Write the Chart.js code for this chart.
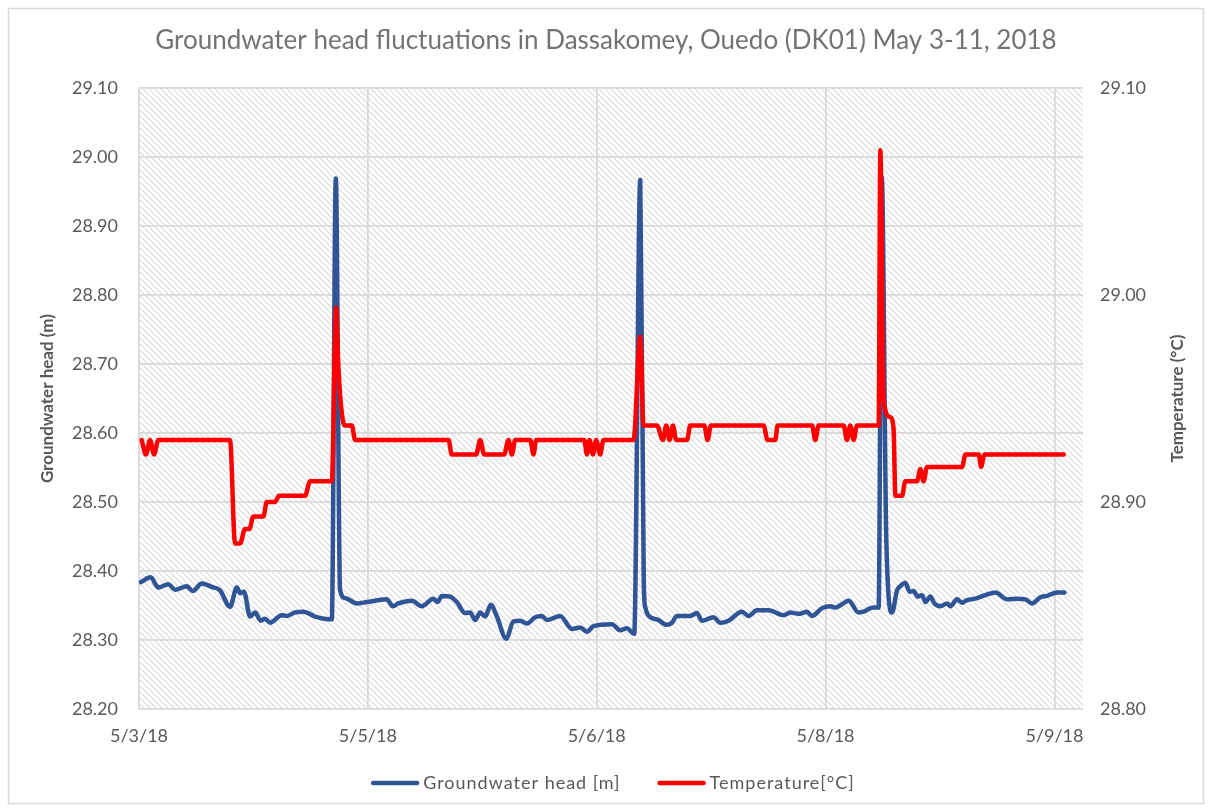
<!DOCTYPE html>
<html>
<head>
<meta charset="utf-8">
<script src="https://cdn.jsdelivr.net/npm/chart.js@4/dist/chart.umd.min.js"></script>
<style>
  html, body { margin: 0; padding: 0; background: #ffffff; }
  #wrap { position: relative; width: 1212px; height: 812px; }
</style>
</head>
<body>
<div id="wrap"><canvas id="chart" width="1212" height="812"></canvas></div>
<script>
// Hours after 5/3/18 12:00 and logger readings
const headHours = [0.31,1.84,3.04,4.61,5.67,7.51,8.45,9.87,11.44,12.75,
  14.32,15.38,15.90,16.52,17.47,18.26,19.15,19.83,20.62,22.46,
  23.25,24.55,25.86,27.70,30.33,30.96,31.63,32.42,34.26,35.84,
  38.98,39.93,40.81,42.92,44.49,46.32,46.95,47.64,48.95,50.00,
  51.31,52.09,52.88,53.67,54.45,55.35,56.30,57.76,58.91,59.96,
  61.02,62.32,63.38,64.16,66.26,68.10,69.41,70.46,71.50,74.39,
  75.70,76.75,77.90,78.85,79.40,79.63,80.94,81.73,82.94,83.84,
  84.62,86.72,87.77,88.56,90.38,91.44,92.74,94.85,95.89,97.21,
  99.04,101.40,102.45,103.76,105.08,105.87,107.44,108.75,109.54,110.59,
  111.63,113.20,113.99,114.78,115.56,116.35,116.85,117.56,118.46,119.25,
  119.77,120.55,121.23,121.86,122.49,123.18,123.70,124.49,125.12,126.06,
  127.12,127.64,128.69,129.48,130.26,131.57,133.14,134.72,136.56,138.13,
  139.44,140.49,141.80,142.85,144.43,145.58];
const headValues = [28.384,28.391,28.376,28.381,28.373,28.378,28.371,28.382,28.377,28.372,
  28.348,28.376,28.368,28.370,28.334,28.340,28.328,28.331,28.325,28.336,
  28.335,28.340,28.341,28.334,28.330,28.969,28.372,28.361,28.353,28.355,
  28.359,28.349,28.353,28.357,28.349,28.360,28.355,28.364,28.363,28.355,
  28.339,28.340,28.329,28.340,28.334,28.351,28.334,28.302,28.327,28.328,
  28.324,28.333,28.335,28.329,28.335,28.316,28.318,28.312,28.320,28.323,
  28.314,28.317,28.309,28.967,28.387,28.348,28.331,28.329,28.322,28.325,
  28.335,28.335,28.339,28.328,28.333,28.325,28.328,28.341,28.335,28.343,
  28.343,28.336,28.340,28.338,28.341,28.335,28.346,28.349,28.347,28.352,
  28.357,28.340,28.341,28.345,28.347,28.347,28.970,28.445,28.340,28.372,
  28.378,28.383,28.370,28.371,28.363,28.365,28.355,28.363,28.353,28.349,
  28.353,28.349,28.359,28.354,28.358,28.360,28.365,28.369,28.359,28.360,
  28.359,28.353,28.362,28.364,28.369,28.369];

const tempHours = [0.42,1.10,1.73,2.36,3.04,14.32,15.11,15.90,16.68,17.36,
  17.99,19.56,20.10,21.40,22.03,26.12,26.91,30.33,31.00,31.37,
  31.90,32.42,33.48,34.00,48.68,49.21,53.04,53.67,54.30,57.44,
  58.12,58.66,59.18,61.54,62.06,62.48,70.04,70.46,70.87,71.40,
  71.92,72.55,73.07,77.79,78.85,79.37,81.48,82.42,82.94,83.46,
  83.99,84.51,86.20,86.72,88.92,89.44,89.97,98.25,98.88,100.09,
  100.46,105.87,106.39,106.91,110.84,111.37,111.89,112.42,112.95,116.35,
  116.62,117.14,118.19,118.71,118.98,120.03,120.55,122.39,122.91,123.43,
  123.97,129.48,130.00,132.09,132.47,132.99,145.47];
const tempValues = [28.930,28.923,28.930,28.923,28.930,28.930,28.880,28.880,28.887,28.887,
  28.893,28.893,28.900,28.900,28.903,28.903,28.910,28.910,28.994,28.965,
  28.943,28.937,28.937,28.930,28.930,28.923,28.923,28.930,28.923,28.923,
  28.930,28.923,28.930,28.930,28.923,28.930,28.930,28.923,28.930,28.923,
  28.930,28.923,28.930,28.930,28.980,28.937,28.937,28.930,28.937,28.930,
  28.937,28.930,28.930,28.937,28.937,28.930,28.937,28.937,28.930,28.930,
  28.937,28.937,28.930,28.937,28.937,28.930,28.937,28.930,28.937,28.937,
  29.070,28.949,28.941,28.935,28.903,28.903,28.910,28.910,28.916,28.910,
  28.917,28.917,28.923,28.923,28.917,28.923,28.923];

// Date axis: one gridline every 36 hours
const xTickHours = [0, 36, 72, 108, 144];
const xTickLabels = ['5/3/18', '5/5/18', '5/6/18', '5/8/18', '5/9/18'];

const titleText = 'Groundwater head fluctuations in Dassakomey, Ouedo (DK01) May 3-11, 2018';
const headLabel = 'Groundwater head [m]';
const tempLabel = 'Temperature[°C]';
const headAxisTitle = 'Groundwater head (m)';
const tempAxisTitle = 'Temperature (°C)';

const BLUE = '#2f5597';
const RED = '#ff0000';
const TEXT = '#595959';
const FONT = 'Lato, "Open Sans", sans-serif';

Chart.defaults.font.family = FONT;
Chart.defaults.color = TEXT;

// Diagonal hatch tile for the plot area
function hatchPattern(ctx) {
  const s = 6;
  const tile = document.createElement('canvas');
  tile.width = s; tile.height = s;
  const t = tile.getContext('2d');
  t.fillStyle = '#ffffff';
  t.fillRect(0, 0, s, s);
  t.strokeStyle = '#d8d8d8';
  t.lineWidth = 1.1;
  for (let k = -1; k <= 1; k++) {
    t.beginPath();
    t.moveTo(k * s, 0);
    t.lineTo(k * s + s, s);
    t.stroke();
  }
  return ctx.createPattern(tile, 'repeat');
}

const decor = {
  id: 'decor',
  beforeDraw(chart) {
    const { ctx, chartArea: a } = chart;
    ctx.save();
    ctx.fillStyle = '#ffffff';
    ctx.fillRect(0, 0, chart.width, chart.height);
    ctx.fillStyle = hatchPattern(ctx);
    ctx.fillRect(a.left, a.top, a.right - a.left, a.bottom - a.top);
    ctx.strokeStyle = '#d9d9d9';
    ctx.lineWidth = 1.5;
    ctx.strokeRect(8.5, 8.5, chart.width - 17, chart.height - 17);
    ctx.restore();
  },
  afterDraw(chart) {
    const { ctx, chartArea: a } = chart;
    const midY = (a.top + a.bottom) / 2;
    ctx.save();
    ctx.fillStyle = TEXT;
    ctx.font = 'bold 17px ' + FONT;
    ctx.textAlign = 'center';
    ctx.textBaseline = 'middle';
    [[48, headAxisTitle], [1178, tempAxisTitle]].forEach(([x, txt]) => {
      ctx.save();
      ctx.translate(x, midY);
      ctx.rotate(-Math.PI / 2);
      ctx.fillText(txt, 0, 0);
      ctx.restore();
    });

    // legend row
    ctx.font = '18px ' + FONT;
    ctx.letterSpacing = '1px';
    ctx.textAlign = 'left';
    const lineLen = 48, gap = 4, itemGap = 37, y = 783;
    const items = chart.data.datasets.slice().sort((p, q) => p.legendIndex - q.legendIndex);
    const widths = items.map(d => lineLen + gap + ctx.measureText(d.label).width);
    const total = widths.reduce((s, w) => s + w, 0) + itemGap * (items.length - 1);
    let x = 613 - total / 2;
    items.forEach((d, i) => {
      ctx.strokeStyle = d.borderColor;
      ctx.lineWidth = 4.5;
      ctx.lineCap = 'round';
      ctx.beginPath();
      ctx.moveTo(x + 2, y);
      ctx.lineTo(x + lineLen - 2, y);
      ctx.stroke();
      ctx.fillText(d.label, x + lineLen + gap, y);
      x += widths[i] + itemGap;
    });
    ctx.restore();
  }
};

const headPoints = headHours.map((h, i) => ({ x: h, y: headValues[i] }));
const tempPoints = tempHours.map((h, i) => ({ x: h, y: tempValues[i] }));

new Chart(document.getElementById('chart'), {
  type: 'line',
  data: {
    datasets: [
      {
        label: headLabel, legendIndex: 0, data: headPoints, yAxisID: 'yHead',
        borderColor: BLUE, backgroundColor: BLUE, borderWidth: 4.5,
        pointRadius: 0, cubicInterpolationMode: 'monotone',
        borderJoinStyle: 'round', borderCapStyle: 'round', order: 2
      },
      {
        label: tempLabel, legendIndex: 1, data: tempPoints, yAxisID: 'yTemp',
        borderColor: RED, backgroundColor: RED, borderWidth: 4.5,
        pointRadius: 0, cubicInterpolationMode: 'monotone',
        borderJoinStyle: 'round', borderCapStyle: 'round', order: 1
      }
    ]
  },
  options: {
    responsive: false,
    animation: false,
    events: [],
    layout: { padding: { top: 0, left: 0, right: 0, bottom: 53 } },
    plugins: {
      legend: { display: false },
      tooltip: { enabled: false },
      title: {
        display: true, text: titleText, color: '#737373',
        font: { size: 26, weight: 'normal', family: FONT },
        padding: { top: 25, bottom: 32 }
      }
    },
    scales: {
      x: {
        type: 'linear', min: 0, max: 148.5,
        afterBuildTicks(scale) { scale.ticks = xTickHours.map(v => ({ value: v })); },
        afterFit(scale) { scale.height = 50; },
        ticks: {
          padding: 16, color: TEXT, font: { size: 18 }, maxRotation: 0, autoSkip: false,
          callback(v) { const i = xTickHours.indexOf(v); return i >= 0 ? xTickLabels[i] : ''; }
        },
        grid: { color: '#d9d9d9', lineWidth: 1.75, drawTicks: false },
        border: { display: false }
      },
      yHead: {
        type: 'linear', position: 'left', min: 28.2, max: 29.1,
        afterFit(scale) { scale.width = 139; },
        ticks: { stepSize: 0.1, padding: 21, color: TEXT, font: { size: 18 },
          callback(v) { return Number(v).toFixed(2); } },
        grid: { color: '#d9d9d9', lineWidth: 1.75, drawTicks: false },
        border: { display: false }
      },
      yTemp: {
        type: 'linear', position: 'right', min: 28.8, max: 29.1,
        afterFit(scale) { scale.width = 129; },
        ticks: { stepSize: 0.1, padding: 17, color: TEXT, font: { size: 18 },
          callback(v) { return Number(v).toFixed(2); } },
        grid: { drawOnChartArea: false, drawTicks: false },
        border: { display: false }
      }
    }
  },
  plugins: [decor]
});
</script>
</body>
</html>
